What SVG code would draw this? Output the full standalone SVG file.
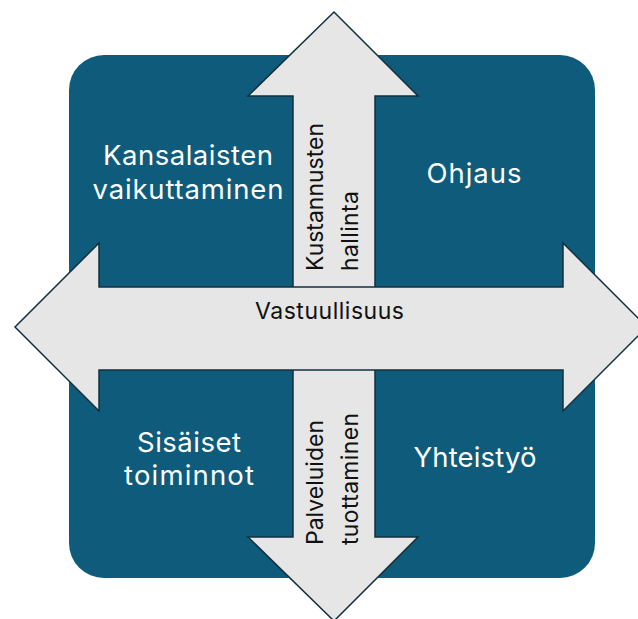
<svg xmlns="http://www.w3.org/2000/svg" width="638" height="619" viewBox="0 0 638 619">
  <style>
    .quad { fill: #0e5b7b; }
    .arrow { fill: #e6e6e6; stroke: #13303f; stroke-width: 1.5; stroke-linejoin: miter; }
    .qt { font-family: Inter, "Liberation Sans", sans-serif; font-size: 27.5px; fill: #ffffff; text-anchor: middle; }
    .at { font-family: Inter, "Liberation Sans", sans-serif; font-size: 23px; fill: #111111; }
  </style>
  <rect width="638" height="619" fill="#ffffff"/>
  <g id="quad-kansalaisten">
    <rect class="quad" x="69" y="55" width="258" height="258" rx="35" ry="35"/>
    <text class="qt" x="188" y="165" textLength="170">Kansalaisten</text>
    <text class="qt" x="188" y="199" textLength="191">vaikuttaminen</text>
  </g>
  <g id="quad-ohjaus">
    <rect class="quad" x="341" y="55" width="254" height="258" rx="35" ry="35"/>
    <text class="qt" x="474" y="183" textLength="95">Ohjaus</text>
  </g>
  <g id="quad-sisaiset">
    <rect class="quad" x="69" y="342" width="258" height="236" rx="35" ry="35"/>
    <text class="qt" x="189" y="452" textLength="104">Sisäiset</text>
    <text class="qt" x="189" y="485" textLength="130">toiminnot</text>
  </g>
  <g id="quad-yhteistyo">
    <rect class="quad" x="341" y="342" width="254" height="236" rx="35" ry="35"/>
    <text class="qt" x="475" y="467" textLength="123">Yhteistyö</text>
  </g>
  <g id="connectors">
    <g id="arrow-vertical">
      <path class="arrow" d="M334,12 L418,96 L375,96 L375,537 L418,537 L334,621 L248,537 L293,537 L293,96 L248,96 Z"/>
      <text class="at" transform="translate(323,271) rotate(-90)" textLength="148">Kustannusten</text>
      <text class="at" transform="translate(358,271) rotate(-90)" textLength="80">hallinta</text>
      <text class="at" transform="translate(323,545) rotate(-90)" textLength="125">Palveluiden</text>
      <text class="at" transform="translate(358,545) rotate(-90)" textLength="132">tuottaminen</text>
    </g>
    <g id="arrow-horizontal">
      <path class="arrow" d="M15,327 L99,243 L99,287 L563,287 L563,243 L647,327 L563,411 L563,370 L99,370 L99,411 Z"/>
      <text class="at" x="329.5" y="319" text-anchor="middle" textLength="149">Vastuullisuus</text>
    </g>
  </g>
</svg>
